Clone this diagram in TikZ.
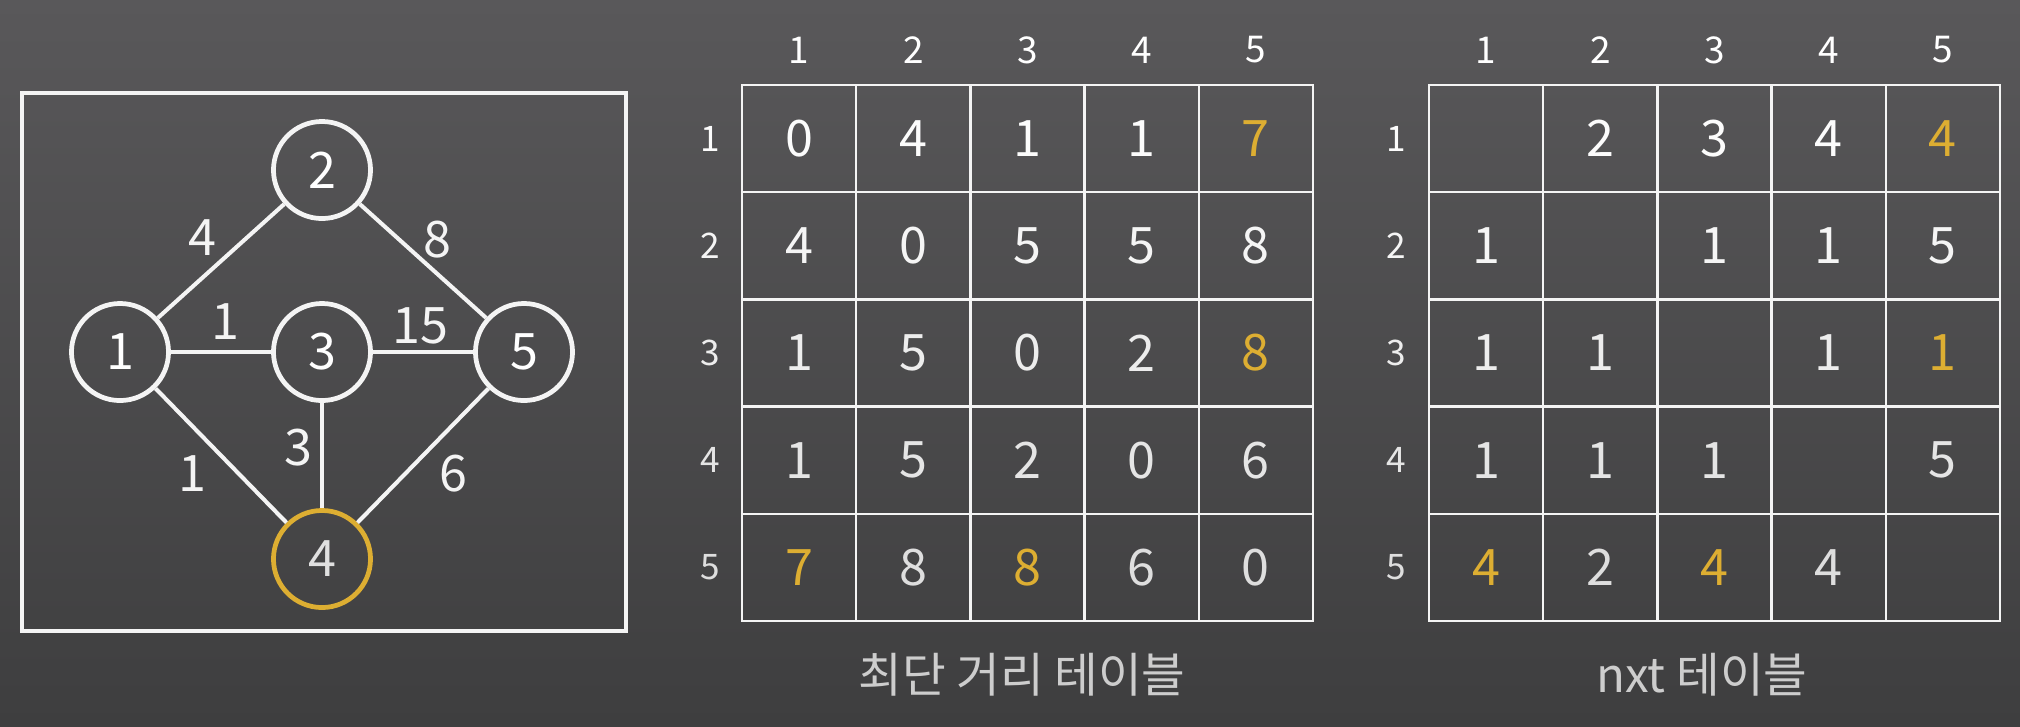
\documentclass[tikz,border=0pt]{standalone}
\usepackage{fontspec}
\setmainfont{Noto Sans CJK KR}
\definecolor{cbg}{HTML}{59585A}
\definecolor{cbgdark}{HTML}{3E3E3F}
\definecolor{cgold}{HTML}{DDAE32}
\definecolor{cline}{HTML}{F4F4F4}
\definecolor{ctitle}{HTML}{CDCDCD}
\newcommand{\gold}[1]{\textcolor{cgold}{#1}}
\tikzset{
  every picture/.style={x=0.01cm, y=-0.01cm},
  vertex/.style={draw=#1, circle, line width=1.35pt, minimum size=0.97cm, inner sep=0pt, text=white, font=\fontsize{14.3}{16}\selectfont},
  vertex/.default=cline,
  edge/.style={draw=cline, line width=1.15pt},
  weight/.style={text=cline, font=\fontsize{14.3}{16}\selectfont},
  cell/.style={draw=cline, line width=0.65pt, minimum width=1.142cm, minimum height=1.072cm, inner sep=0pt, font=\fontsize{14.3}{16}\selectfont},
  colhead/.style={text=white, font=\fontsize{10.5}{12}\selectfont},
  rowhead/.style={font=\fontsize{10}{12}\selectfont},
  title/.style={text=ctitle, font=\fontsize{13.5}{16}\selectfont},
}

\begin{document}
\begin{tikzpicture}
  \useasboundingbox (0,0) rectangle (2020,726);
  \shade[top color=cbg, bottom color=cbgdark] (0,0) rectangle (2020,726);

  % the graph
  \draw[draw=cline, line width=1.15pt] (22,93) rectangle (626,631);
  \node[vertex] (v1) at (120,352) {1};
  \node[vertex] (v2) at (322,170) {2};
  \node[vertex] (v3) at (322,352) {3};
  \node[vertex] (v5) at (524,352) {5};
  \node[vertex=cgold, text=white!88!black] (v4) at (322,559) {4};
  \foreach \a/\b in {1/2, 2/5, 1/3, 3/5, 1/4, 3/4, 5/4} { \draw[edge] (v\a) -- (v\b); }
  \foreach \a/\b/\w/\x/\y in {1/2/4/202/238, 2/5/8/437/240, 1/3/1/225/322, 3/5/15/420/326,
      1/4/1/192/474, 3/4/3/298/448, 5/4/6/453/474} {
    \node[weight] (w\a\b) at (\x,\y) {\w};
  }

  % shortest distance table
  \foreach \c in {1,...,5} { \node[colhead] (dh\c) at ({742+114.2*(\c-0.5)},50) {\c}; }
  \foreach \r/\vals [evaluate=\r as \s using int(102-3*\r)] in {1/{0,4,1,1,\gold{7}}, 2/{4,0,5,5,8},
      3/{1,5,0,2,\gold{8}}, 4/{1,5,2,0,6}, 5/{\gold{7},8,\gold{8},6,0}} {
    \node[rowhead, text=white!\s!black] (dr\r) at (710,{85+107.2*(\r-0.5)}) {\r};
    \foreach \v [count=\c] in \vals {
      \node[cell, text=white!\s!black] (d\r\c) at ({742+114.2*(\c-0.5)},{85+107.2*(\r-0.5)}) {\v};
    }
  }
  \node[title] (dtitle) at (1022,675) {최단 거리 테이블};

  % nxt table
  \foreach \c in {1,...,5} { \node[colhead] (nh\c) at ({1429+114.2*(\c-0.5)},50) {\c}; }
  \foreach \r/\vals [evaluate=\r as \s using int(102-3*\r)] in {1/{{},2,3,4,\gold{4}}, 2/{1,{},1,1,5},
      3/{1,1,{},1,\gold{1}}, 4/{1,1,1,{},5}, 5/{\gold{4},2,\gold{4},4,{}}} {
    \node[rowhead, text=white!\s!black] (nr\r) at (1396,{85+107.2*(\r-0.5)}) {\r};
    \foreach \v [count=\c] in \vals {
      \node[cell, text=white!\s!black] (n\r\c) at ({1429+114.2*(\c-0.5)},{85+107.2*(\r-0.5)}) {\v};
    }
  }
  \node[title] (ntitle) at (1702,675) {nxt 테이블};
\end{tikzpicture}
\end{document}
